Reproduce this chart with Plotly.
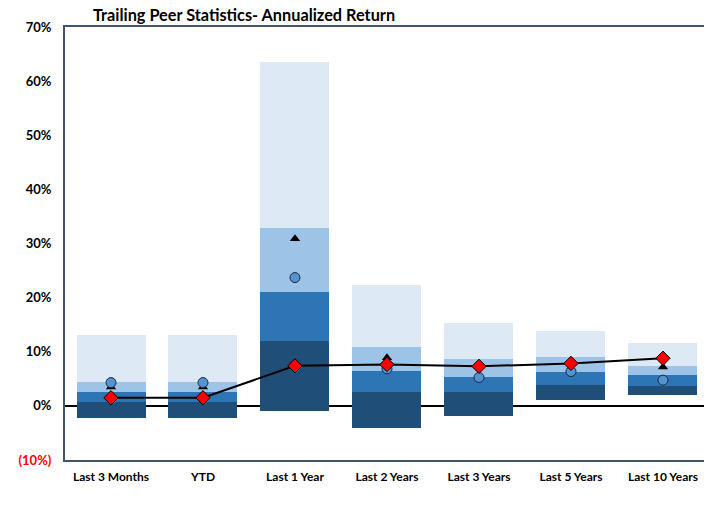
import plotly.graph_objects as go

categories = ["Last 3 Months", "YTD", "Last 1 Year", "Last 2 Years", "Last 3 Years", "Last 5 Years", "Last 10 Years"]
p05 = [13.1, 13.1, 63.5, 22.4, 15.4, 13.9, 11.55]
p25 = [4.5, 4.5, 32.8, 10.9, 8.6, 9.1, 7.4]
p50 = [2.5, 2.5, 21.1, 6.4, 5.25, 6.3, 5.75]
p75 = [0.8, 0.8, 11.9, 2.65, 2.65, 3.95, 3.75]
p95 = [-2.2, -2.2, -0.9, -4.1, -1.9, 1.05, 2.1]
benchmark = [3.5, 3.5, 30.9, 8.9, 7.3, 8.3, 7.2]
peer_avg = [4.3, 4.3, 23.7, 6.85, 5.25, 6.35, 4.75]
portfolio = [1.5, 1.5, 7.4, 7.65, 7.3, 7.85, 8.8]

tick_vals = [-10, 0, 10, 20, 30, 40, 50, 60, 70]
tick_text = ["<b><span style='color:#ff0000'>(10%)</span></b>", "<b>0%</b>", "<b>10%</b>", "<b>20%</b>",
             "<b>30%</b>", "<b>40%</b>", "<b>50%</b>", "<b>60%</b>", "<b>70%</b>"]
cat_text = ["<b>" + c + "</b>" for c in categories]

band_colors = ["#1f4e79", "#2e75b6", "#9dc3e6", "#ddeaf6"]
lows = [p95, p75, p50, p25]
highs = [p75, p50, p25, p05]

fig = go.Figure()
for lo, hi, col in zip(lows, highs, band_colors):
    fig.add_trace(go.Bar(
        x=categories,
        y=[h - l for h, l in zip(hi, lo)],
        base=lo,
        marker=dict(color=col, line=dict(width=0)),
        width=0.75,
        showlegend=False,
        hoverinfo="skip",
    ))

fig.add_trace(go.Scatter(
    x=categories, y=benchmark, mode="markers",
    marker=dict(symbol="triangle-up", size=9, color="#000000"),
    showlegend=False,
))
fig.add_trace(go.Scatter(
    x=categories, y=peer_avg, mode="markers",
    marker=dict(symbol="circle", size=10, color="#5593d0", line=dict(color="#1a2a40", width=1)),
    showlegend=False,
))
fig.add_trace(go.Scatter(
    x=categories, y=portfolio, mode="lines+markers",
    line=dict(color="#000000", width=2),
    marker=dict(symbol="diamond", size=11, color="#ff0000", line=dict(color="#000000", width=1)),
    showlegend=False,
))

fig.update_layout(
    width=704, height=508,
    margin=dict(l=65, r=0, t=27, b=48, autoexpand=False),
    plot_bgcolor="white", paper_bgcolor="white",
    barmode="overlay",
    bargap=0,
    font=dict(family="Lato, Calibri, sans-serif", color="#000000"),
    title=dict(
        text="<b>Trailing Peer Statistics- Annualized Return</b>",
        x=93 / 704, xanchor="left", y=1 - 15 / 508, yanchor="middle",
        font=dict(size=16.3, color="#000000"),
    ),
    xaxis=dict(
        range=[-0.5, 6.446],
        tickmode="array", tickvals=categories, ticktext=cat_text,
        showline=True, linecolor="#44546a", linewidth=2, mirror=True,
        showgrid=False, ticks="",
        tickfont=dict(size=12),
        ticklabelstandoff=5,
        automargin=False,
    ),
    yaxis=dict(
        range=[-10, 70],
        tickvals=tick_vals, ticktext=tick_text,
        showline=True, linecolor="#44546a", linewidth=2,
        showgrid=False, ticks="",
        zeroline=True, zerolinecolor="#000000", zerolinewidth=2,
        tickfont=dict(size=13),
        ticklabelstandoff=9,
        automargin=False,
    ),
)

fig.write_html("out.html", config={"displayModeBar": False},
               post_script="document.body.style.margin='0px';")
